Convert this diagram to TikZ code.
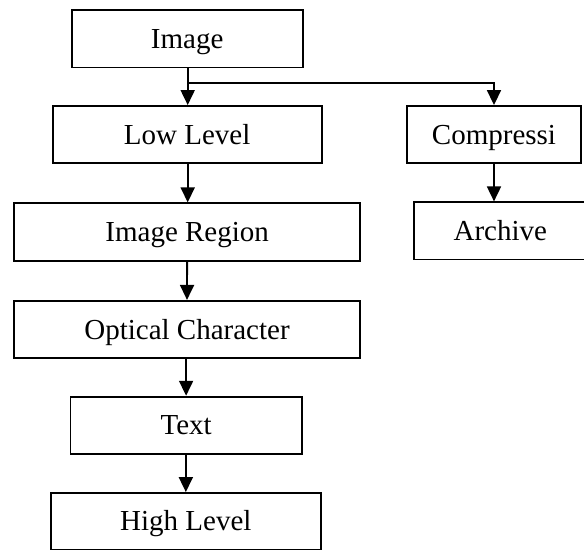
\documentclass[tikz,border=0pt]{standalone}
\usepackage{fontspec}
\setmainfont{Liberation Serif}
\usetikzlibrary{arrows.meta}

\tikzset{
  box/.style={draw, line width=1.8pt, inner sep=0pt, minimum height=57.4pt,
              text height=19.2pt, text depth=0pt,
              font=\fontsize{29}{34}\selectfont},
  arr/.style={line width=1.8pt, -{Triangle[width=14pt,length=15pt]}}
}

\begin{document}
\begin{tikzpicture}[x=1pt, y=-1pt]
  \useasboundingbox (0,0) rectangle (584,550);
  \clip (0,0) rectangle (584,550);

  % left column
  \node[box, minimum width=231pt]   (img)  at (187.2, 38.75)  {Image};
  \node[box, minimum width=269pt]   (low)  at (187.2, 134.65) {Low Level};
  \node[box, minimum width=346.3pt] (reg)  at (187.15, 232.0) {Image Region};
  \node[box, minimum width=346pt]   (ocr)  at (187.0, 329.5)  {Optical Character};
  \node[box, minimum width=231.2pt] (txt)  at (186.1, 425.35) {Text};
  \node[box, minimum width=269.7pt, minimum height=56.5pt] (high) at (185.85, 521.2) {High Level};

  % right column
  \node[box, minimum width=173.4pt] (comp) at (494.0, 134.65) {Compressi};
  \node[box, minimum width=172pt, minimum height=57.2pt] (arch) at (500.3, 230.9) {Archive};

  % connectors
  \coordinate (br) at (187.7, 82.7);
  \draw[arr] (img.south -| br) -- (low.north -| br);
  \draw[arr] (br) -| (comp.north);
  \draw[arr] (low.south -| br) -- (reg.north -| br);
  \draw[arr] (reg.south) -- (ocr.north);
  \draw[arr] (ocr.south -| txt.south) -- (txt.north);
  \draw[arr] (txt.south -| high.north) -- (high.north);
  \draw[arr] (comp.south) -- (arch.north -| comp.south);
\end{tikzpicture}
\end{document}
